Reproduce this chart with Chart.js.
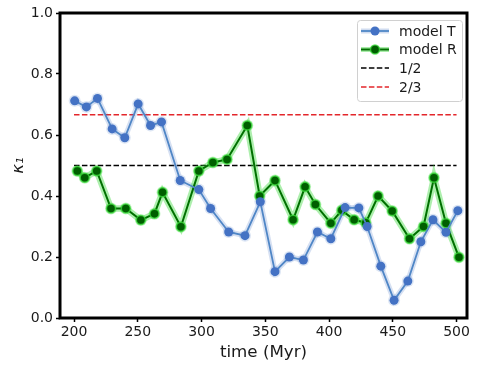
<!DOCTYPE html>
<html><head><meta charset="utf-8">
<script src="https://cdn.jsdelivr.net/npm/chart.js@4"></script>
<style>html,body{margin:0;padding:0;background:#fff}canvas{display:block}</style>
</head><body>
<canvas id="c" width="479" height="369"></canvas>
<script>
const timeT = [200.5,209.7,218.4,229.9,239.8,250.3,260,268.6,283.3,297.9,307.1,321.3,334.1,346.1,357.6,368.9,379.9,390.9,401.4,412.6,423.4,429.9,440.6,451,461.8,472,481.5,491.7,501];
const kappaT = [0.712,0.692,0.72,0.62,0.591,0.702,0.631,0.643,0.451,0.421,0.359,0.282,0.27,0.381,0.152,0.20,0.19,0.282,0.26,0.362,0.361,0.30,0.17,0.058,0.121,0.25,0.322,0.281,0.352];
const timeR = [202.6,208.4,217.8,229,240.6,252.4,263.1,269.4,283.8,297.9,308.9,320,335.9,345.6,357.6,371.8,381.2,389.3,401.4,410,419.7,428.8,438.5,449.5,463.1,474.1,482.3,491.7,501.9];
const kappaR = [0.482,0.46,0.482,0.359,0.359,0.321,0.342,0.412,0.299,0.482,0.51,0.52,0.631,0.40,0.451,0.322,0.43,0.372,0.311,0.353,0.322,0.312,0.40,0.351,0.26,0.30,0.46,0.311,0.199];
const refTime = [200, 500];
const halfLine = [0.5, 0.5];
const twoThirdsLine = [2/3, 2/3];
const xTicks = [200,250,300,350,400,450,500];
const yTicks = [0,0.2,0.4,0.6,0.8,1.0];

const pts = (xs, ys) => xs.map((x,i)=>({x, y: ys[i]}));
const FONT = "'DejaVu Sans', sans-serif";

const frame = {
  id:'frame',
  afterDatasetsDraw(chart){
    const {ctx, chartArea:a} = chart;
    ctx.save();
    ctx.strokeStyle='#000'; ctx.lineWidth=3;
    ctx.strokeRect(a.left, a.top, a.right-a.left, a.bottom-a.top);
    ctx.restore();
  }
};
const legendBox = {
  id:'legendBox',
  afterDraw(chart){
    const ctx = chart.ctx;
    const x0=357, y0=20, w=105, h=81;
    ctx.save();
    ctx.fillStyle='rgba(255,255,255,0.85)';
    ctx.strokeStyle='#d0d0d0'; ctx.lineWidth=1;
    ctx.beginPath();
    if (ctx.roundRect) ctx.roundRect(x0+0.5,y0+0.5,w,h,3); else ctx.rect(x0+0.5,y0+0.5,w,h);
    ctx.fill(); ctx.stroke();
    const ds = chart.data.datasets;
    const entries = [ds[0], ds[1], ds[2], ds[3]];
    const ys = [31, 49.5, 68, 87];
    const lx1=361, lx2=389, tx=399;
    entries.forEach((d,i)=>{
      const y = ys[i];
      ctx.save();
      if (d.glow){
        ctx.strokeStyle=d.glow; ctx.lineWidth=5; ctx.setLineDash([]);
        ctx.beginPath(); ctx.moveTo(lx1,y); ctx.lineTo(lx2,y); ctx.stroke();
      }
      ctx.strokeStyle=d.borderColor; ctx.lineWidth=d.borderWidth;
      ctx.setLineDash(d.borderDash||[]);
      ctx.beginPath(); ctx.moveTo(lx1,y); ctx.lineTo(lx2,y); ctx.stroke();
      ctx.setLineDash([]);
      if (d.pointRadius>0){
        ctx.beginPath(); ctx.arc((lx1+lx2)/2, y, d.pointRadius, 0, Math.PI*2);
        ctx.fillStyle=d.pointBackgroundColor; ctx.fill();
        if (d.pointBorderWidth>0){ctx.strokeStyle=d.pointBorderColor; ctx.lineWidth=d.pointBorderWidth; ctx.stroke();}
      }
      ctx.fillStyle='#1a1a1a'; ctx.font='14px '+FONT; ctx.textBaseline='middle'; ctx.textAlign='left';
      ctx.fillText(d.label, tx, y+1);
      ctx.restore();
    });
    ctx.restore();
  }
};

new Chart(document.getElementById('c'), {
  type:'line',
  data:{datasets:[
    {label:'model T', data:pts(timeT,kappaT), borderColor:'#4f86c6', borderWidth:1.8,
     pointRadius:4.5, pointBackgroundColor:'#4472c4', pointBorderColor:'#4472c4', pointBorderWidth:0,
     glow:'rgba(68,114,196,0.25)', order:0, tension:0},
    {label:'model R', data:pts(timeR,kappaR), borderColor:'#007000', borderWidth:2,
     pointRadius:4.5, pointBackgroundColor:'#005f00', pointBorderColor:'rgba(60,220,60,0.75)', pointBorderWidth:1.5,
     glow:'rgba(40,210,40,0.4)', order:0, tension:0},
    {label:'1/2', data:pts(refTime,halfLine), borderColor:'#000', borderWidth:1.5, borderDash:[5.5,2.4], pointRadius:0, pointBorderWidth:0, order:3},
    {label:'2/3', data:pts(refTime,twoThirdsLine), borderColor:'#e3262b', borderWidth:1.5, borderDash:[5.5,2.4], pointRadius:0, pointBorderWidth:0, order:3},
    {label:'_gT', data:pts(timeT,kappaT), borderColor:'rgba(68,114,196,0.22)', borderWidth:5.5, pointRadius:6, pointBackgroundColor:'rgba(68,114,196,0.18)', pointBorderWidth:0, order:2, tension:0},
    {label:'_gR', data:pts(timeR,kappaR), borderColor:'rgba(50,215,50,0.4)', borderWidth:6.5, pointRadius:6, pointBackgroundColor:'rgba(50,215,50,0.3)', pointBorderWidth:0, order:1, tension:0}
  ]},
  options:{
    responsive:false, animation:false, devicePixelRatio:1,
    layout:{padding:{top:13,right:12,left:9,bottom:0}},
    plugins:{legend:{display:false}, tooltip:{enabled:false}},
    scales:{
      x:{type:'linear', min:189, max:508.2,
        afterBuildTicks(s){s.ticks = xTicks.map(v=>({value:v}));},
        afterFit(s){s.height = 51;},
        grid:{drawOnChartArea:false, drawTicks:true, tickLength:4, tickWidth:1.5, tickColor:'#000'},
        border:{display:false},
        ticks:{color:'#1a1a1a', font:{family:FONT, size:14}, padding:2, maxRotation:0},
        title:{display:true, text:'time (Myr)', color:'#1a1a1a', font:{family:FONT, size:16.7}, padding:{top:0,bottom:6}}
      },
      y:{type:'linear', min:0, max:1,
        afterBuildTicks(s){s.ticks = yTicks.map(v=>({value:v}));},
        afterFit(s){s.width = 51;},
        grid:{drawOnChartArea:false, drawTicks:true, tickLength:4, tickWidth:1.5, tickColor:'#000'},
        border:{display:false},
        ticks:{color:'#1a1a1a', font:{family:FONT, size:14}, padding:3, callback:v=>v.toFixed(1)},
        title:{display:true, text:'κ₁', color:'#1a1a1a', font:{family:FONT, size:16.7, style:'italic'}, padding:{top:0,bottom:4}}
      }
    }
  },
  plugins:[frame, legendBox]
});
</script>
</body></html>
